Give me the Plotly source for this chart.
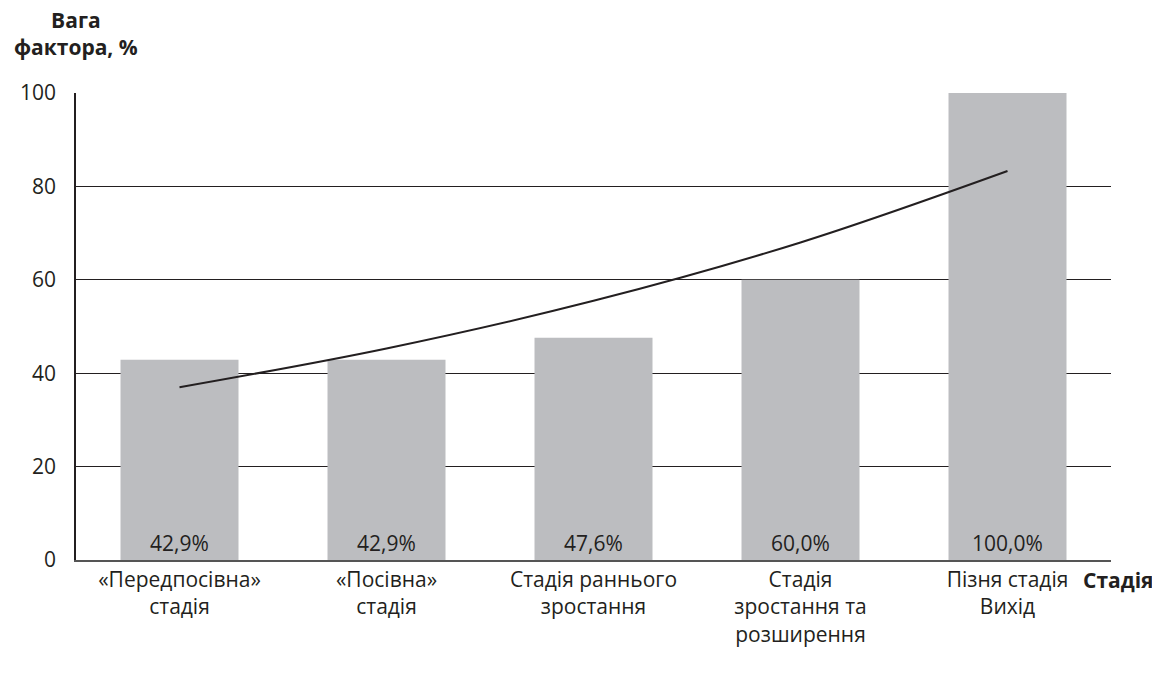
import plotly.graph_objects as go

# stages and factor weights
stages = ["«Передпосівна»<br>стадія", "«Посівна»<br>стадія", "Стадія раннього<br>зростання",
          "Стадія<br>зростання та<br>розширення", "Пізня стадія<br>Вихід"]
weights = [42.9, 42.9, 47.6, 60.0, 100.0]
labels = ["42,9%", "42,9%", "47,6%", "60,0%", "100,0%"]
# exponential trend
trend = [37.0, 45.3, 55.5, 68.0, 83.3]

FONT = "Open Sans"
DARK = "#231f20"
FS = 21

fig = go.Figure()
fig.add_trace(go.Bar(
    x=stages, y=weights, text=labels,
    textposition="inside", insidetextanchor="start",
    textfont=dict(family=FONT, size=FS, color=DARK),
    marker=dict(color="#bcbdc0", line=dict(width=0)),
    hoverinfo="skip",
))
fig.add_trace(go.Scatter(
    x=stages, y=trend, mode="lines",
    line=dict(color=DARK, width=2, shape="spline"),
    hoverinfo="skip",
))

# page body adds 8px, so the figure is a bit smaller than the window
fig.update_layout(
    width=1152, height=669,
    margin=dict(l=64, r=49, t=85, b=117),
    paper_bgcolor="white", plot_bgcolor="white",
    showlegend=False, bargap=0.43,
    font=dict(family=FONT, size=FS, color=DARK),
    xaxis=dict(
        showline=True, linecolor="#555", linewidth=1.5,
        ticks="", tickfont=dict(family=FONT, size=FS, color=DARK),
        showgrid=False,
    ),
    yaxis=dict(
        range=[0, 100], dtick=20, showline=True, linecolor=DARK, linewidth=1.5,
        showgrid=True, gridcolor=DARK, gridwidth=1.3, zeroline=False,
        ticks="", ticklabelstandoff=14,
        tickfont=dict(family=FONT, size=FS, color=DARK),
    ),
    annotations=[
        dict(text="<b>Вага<br>фактора, %</b>", xref="paper", yref="paper",
             x=0, y=1.0, yshift=30, xanchor="center", yanchor="bottom",
             showarrow=False, align="center", font=dict(size=FS)),
        dict(text="<b>Стадія</b>", xref="paper", yref="paper",
             x=1.0, y=0, yshift=-4, xshift=-30, xanchor="left", yanchor="top",
             showarrow=False, font=dict(size=FS)),
    ],
)

fig.write_html("out.html")
